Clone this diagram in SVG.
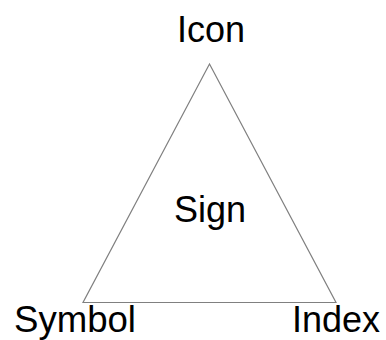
<svg xmlns="http://www.w3.org/2000/svg" width="386" height="340" viewBox="0 0 386 340">
<style>
text{font-family:"Liberation Sans",Arial,sans-serif;font-size:36px;fill:#000;text-anchor:middle}
.edge{stroke:#808080;stroke-width:1.2;fill:none}
</style>
<rect width="386" height="340" fill="#fff"/>
<g id="connectors">
<path class="edge" d="M209.5 64 L83 302.5 L336 302.5 Z"/>
</g>
<g id="icon"><text x="211" y="42">Icon</text></g>
<g id="sign"><text x="210" y="222">Sign</text></g>
<g id="symbol"><text x="75" y="332" textLength="122" lengthAdjust="spacingAndGlyphs">Symbol</text></g>
<g id="index"><text x="336" y="332">Index</text></g>
</svg>
